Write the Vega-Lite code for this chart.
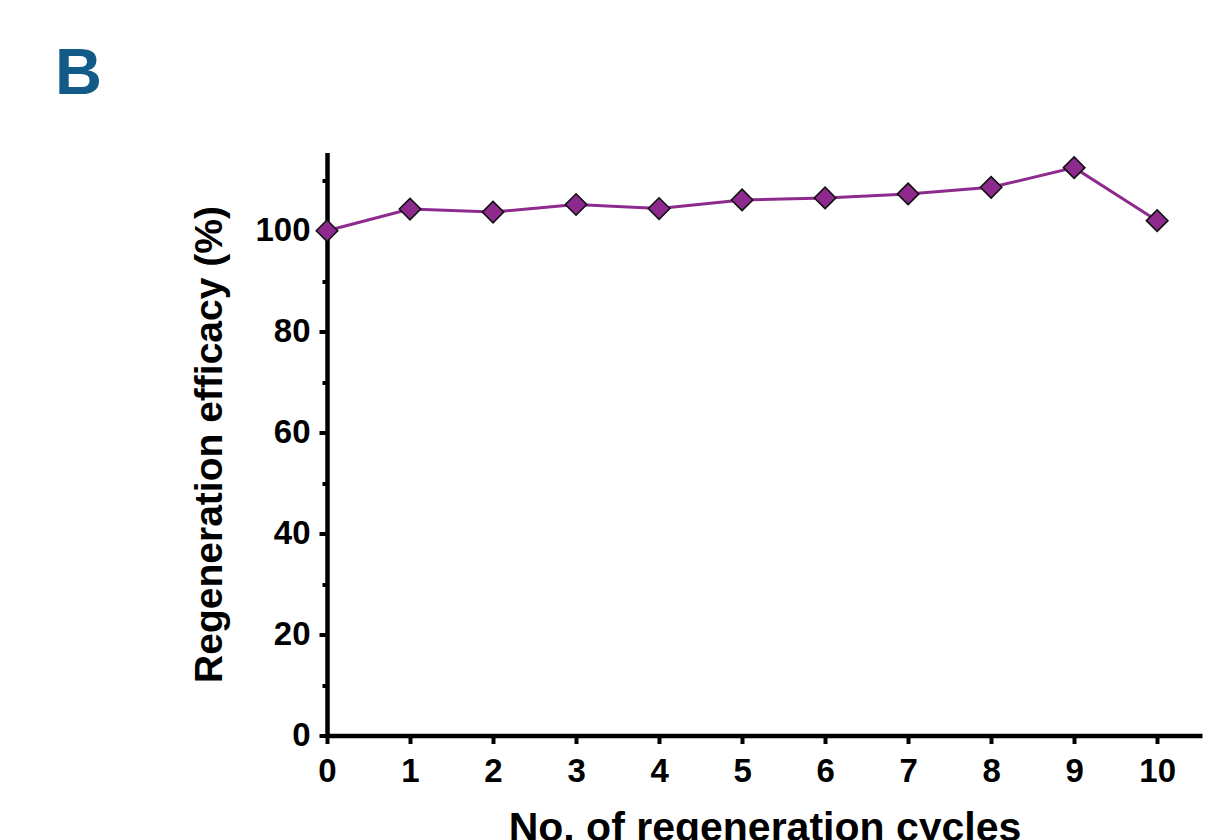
{
  "$schema": "https://vega.github.io/schema/vega-lite/v6.json",
  "width": 875,
  "height": 583,
  "autosize": {"type": "none"},
  "padding": {"left": 327, "top": 152.5, "right": 20, "bottom": 104.5},
  "background": "white",
  "title": {
    "text": "B",
    "anchor": "start",
    "frame": "group",
    "dx": -272,
    "offset": 45,
    "fontSize": 65,
    "font": "Liberation Sans",
    "fontWeight": "bold",
    "color": "#125b88"
  },
  "config": {
    "view": {"stroke": null},
    "axis": {
      "grid": false,
      "domainColor": "black",
      "domainWidth": 4.5,
      "tickColor": "black",
      "tickWidth": 4,
      "labelFont": "Liberation Sans",
      "labelFontWeight": "bold",
      "labelFontSize": 33,
      "labelColor": "black",
      "titleFont": "Liberation Sans",
      "titleFontWeight": "bold",
      "titleColor": "black"
    }
  },
  "data": {
    "values": [
      {"cycle": 0, "efficacy": 100.0},
      {"cycle": 1, "efficacy": 104.3},
      {"cycle": 2, "efficacy": 103.7},
      {"cycle": 3, "efficacy": 105.2},
      {"cycle": 4, "efficacy": 104.4},
      {"cycle": 5, "efficacy": 106.1},
      {"cycle": 6, "efficacy": 106.5},
      {"cycle": 7, "efficacy": 107.3},
      {"cycle": 8, "efficacy": 108.6},
      {"cycle": 9, "efficacy": 112.5},
      {"cycle": 10, "efficacy": 102.0}
    ]
  },
  "encoding": {
    "x": {
      "field": "cycle",
      "type": "quantitative",
      "scale": {"domain": [0, 10.54], "nice": false, "zero": false},
      "axis": {
        "values": [0, 1, 2, 3, 4, 5, 6, 7, 8, 9, 10],
        "title": "No. of regeneration cycles",
        "titleFontSize": 41,
        "tickSize": 8,
        "labelPadding": 12,
        "titlePadding": 20,
        "labelFlush": false
      }
    },
    "y": {
      "field": "efficacy",
      "type": "quantitative",
      "scale": {"domain": [0, 115.5], "nice": false},
      "axis": {
        "values": [0, 10, 20, 30, 40, 50, 60, 70, 80, 90, 100, 110],
        "labelExpr": "datum.value % 20 == 0 ? datum.label : ''",
        "tickSize": {"condition": {"test": "datum.value % 20 != 0", "value": 5}, "value": 8},
        "title": "Regeneration efficacy (%)",
        "titleFontSize": 39,
        "labelPadding": 9,
        "titlePadding": 25,
        "labelFlush": false
      }
    }
  },
  "layer": [
    {
      "mark": {"type": "line", "color": "#8e2a8e", "strokeWidth": 3}
    },
    {
      "mark": {
        "type": "point",
        "shape": "diamond",
        "size": 460,
        "filled": true,
        "fill": "#8e2a8e",
        "stroke": "#111111",
        "strokeWidth": 1.6,
        "opacity": 1
      }
    }
  ]
}
